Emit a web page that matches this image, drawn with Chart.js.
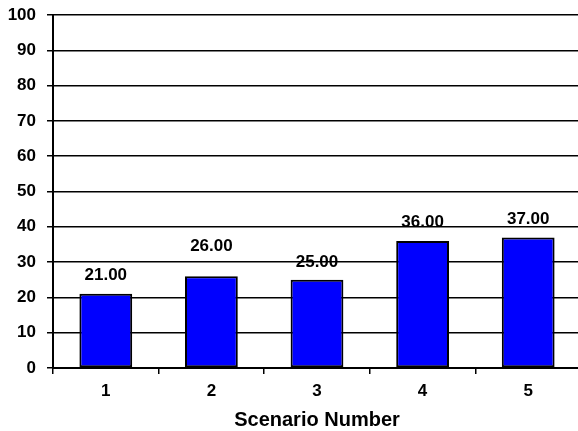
<!DOCTYPE html>
<html>
<head>
<meta charset="utf-8">
<script src="https://cdn.jsdelivr.net/npm/chart.js@4/dist/chart.umd.min.js"></script>
<style>
  html, body { margin: 0; padding: 0; background: #fff; overflow: hidden; }
  #wrap { width: 578px; height: 431px; overflow: hidden; }
  canvas { display: block; }
</style>
</head>
<body>
<div id="wrap"><canvas id="c" width="581" height="431"></canvas></div>
<script>
// Scenario results
const scenarios = ['1', '2', '3', '4', '5'];
const values = [21, 26, 25, 36, 37];
const yTicks = [0, 10, 20, 30, 40, 50, 60, 70, 80, 90, 100];

const FONT = "'Liberation Sans', Arial, Helvetica, sans-serif";

// Draws the value above each bar with two decimals
const valueLabels = {
  id: 'valueLabels',
  afterDatasetsDraw(chart, args, opts) {
    const ctx = chart.ctx;
    const meta = chart.getDatasetMeta(0);
    ctx.save();
    ctx.font = 'bold 17px ' + FONT;
    ctx.fillStyle = '#000';
    ctx.textAlign = 'center';
    ctx.textBaseline = 'middle';
    meta.data.forEach((bar, i) => {
      const v = chart.data.datasets[0].data[i];
      const lift = (opts.lift && opts.lift[i]) || 18;
      ctx.fillText(v.toFixed(2), bar.x, bar.y - lift);
    });
    ctx.restore();
  }
};

new Chart(document.getElementById('c'), {
  type: 'bar',
  data: {
    labels: scenarios,
    datasets: [{
      data: values,
      backgroundColor: '#0000FF',
      borderColor: '#000000',
      borderWidth: 2,
      borderSkipped: false,
      barPercentage: 0.5,
      categoryPercentage: 1.0
    }]
  },
  options: {
    responsive: false,
    devicePixelRatio: 1,
    animation: false,
    layout: { padding: { top: 15, left: 0, right: 0, bottom: 0 } },
    plugins: {
      legend: { display: false },
      tooltip: { enabled: false },
      valueLabels: { lift: [19, 30, 17, 19, 18] }
    },
    scales: {
      x: {
        grid: {
          display: true,
          drawOnChartArea: false,
          drawTicks: true,
          tickLength: 6,
          color: '#000',
          lineWidth: 1.5,
          offset: true
        },
        border: { display: true, color: '#000', width: 2 },
        ticks: {
          color: '#000',
          padding: 9,
          font: { family: FONT, size: 17, weight: 'bold', lineHeight: 1 }
        },
        title: {
          display: true,
          text: 'Scenario Number',
          color: '#000',
          padding: { top: 0, bottom: 1 },
          font: { family: FONT, size: 20, weight: 'bold', lineHeight: 1 }
        },
        afterFit(scale) {
          scale.height = 63;
          scale.paddingLeft = 0;
          scale.paddingRight = 0;
        }
      },
      y: {
        min: 0,
        max: 100,
        afterBuildTicks(scale) { scale.ticks = yTicks.map(v => ({ value: v })); },
        grid: {
          color: '#000',
          lineWidth: 1.5,
          drawTicks: true,
          tickLength: 6
        },
        border: { display: true, color: '#000', width: 2 },
        ticks: {
          color: '#000',
          padding: 11,
          font: { family: FONT, size: 17, weight: 'bold', lineHeight: 1 }
        },
        afterFit(scale) {
          scale.width = 53;
          scale.paddingTop = 0;
          scale.paddingBottom = 0;
        }
      }
    }
  },
  plugins: [valueLabels]
});
</script>
</body>
</html>
